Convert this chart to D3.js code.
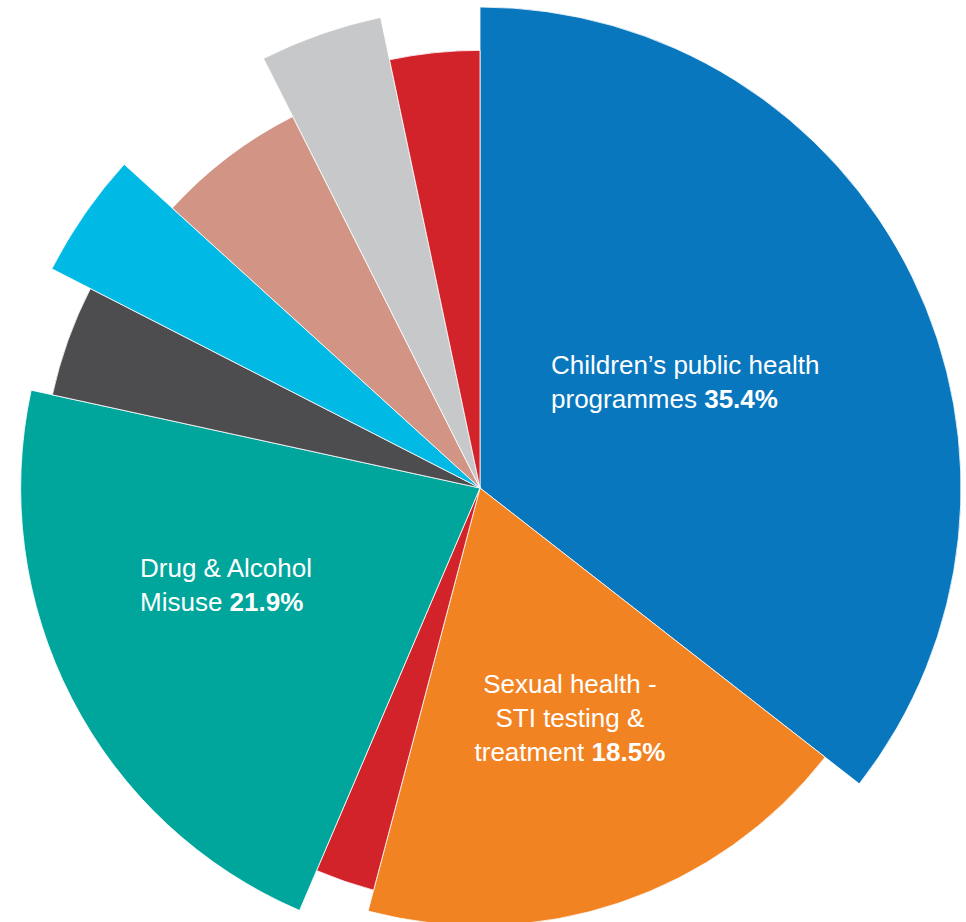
<!DOCTYPE html>
<html>
<head>
<meta charset="utf-8">
<script src="https://cdn.jsdelivr.net/npm/d3@7/dist/d3.min.js"></script>
<style>
  html, body { margin: 0; padding: 0; background: #ffffff; }
  svg { display: block; }
  text { font-family: "Liberation Sans", Arial, Helvetica, sans-serif; fill: #ffffff; }
</style>
</head>
<body>
<svg id="chart" width="966" height="922"></svg>
<script>
// Share of public health spend by programme, clockwise from 12 o'clock
const categories = [
  "Children’s public health programmes",
  "Sexual health - STI testing & treatment",
  "Other (a)",
  "Drug & Alcohol Misuse",
  "Other (b)",
  "Other (c)",
  "Other (d)",
  "Other (e)",
  "Other (f)"
];
const shares = [35.4, 18.5, 2.3, 21.9, 4.1, 4.2, 5.8, 4.1, 3.3];
// Outer reach of each wedge, as a level from 1 (shortest) to 4 (longest)
const reachLevels = [4, 2, 1, 3, 2, 4, 1, 4, 2];
const colours = ["#0877be", "#f28322", "#d2232a", "#00a69c", "#4d4d4f",
                 "#00b9e4", "#d29485", "#c7c8ca", "#d2232a"];
// Label text lines for the three wedges that carry one (last line gets the bold value)
const labelLines = [
  ["Children’s public health", "programmes"],
  ["Sexual health -", "STI testing &", "treatment"],
  null,
  ["Drug & Alcohol", "Misuse"],
  null, null, null, null, null
];

const svg = d3.select("#chart");
const cx = 480, cy = 488;
const g = svg.append("g").attr("transform", `translate(${cx},${cy})`);

const radius = d3.scaleLinear().domain([1, 4]).range([416, 481]);

const data = categories.map((c, i) => ({
  name: c, value: shares[i], level: reachLevels[i], colour: colours[i], lines: labelLines[i]
}));

const pie = d3.pie().sort(null).value(d => d.value);
const arcs = pie(data);

const arc = d3.arc()
  .innerRadius(0)
  .outerRadius(d => radius(d.data.level));

g.selectAll("path.slice")
  .data(arcs)
  .join("path")
  .attr("class", "slice")
  .attr("d", arc)
  .attr("fill", d => d.data.colour)
  .attr("stroke", "#ffffff")
  .attr("stroke-width", 0.8)
  .attr("stroke-linejoin", "miter");

// Label placement: polar offset from the wedge's mid angle, plus alignment
const labelLayout = {
  0: { dAngle: -1.3, r: 231, align: "start", dy: 0 },
  1: { dAngle: -3.1, r: 243, align: "middle", dy: 4 },
  3: { dAngle: 6.9, r: 271, align: "start", dy: 2 }
};

const fontSize = 26, lineGap = 34;
const fmt = d3.format(".1f");

function fillLine(sel, line, isLast, value) {
  sel.append("tspan").text(line);
  if (isLast) {
    sel.append("tspan").text(" ");
    sel.append("tspan").attr("font-weight", "bold").text(fmt(value) + "%");
  }
}

arcs.forEach((a, i) => {
  const lay = labelLayout[i];
  if (!lay || !a.data.lines) return;
  const mid = (a.startAngle + a.endAngle) / 2 + lay.dAngle * Math.PI / 180;
  const px = Math.sin(mid) * lay.r;
  const py = -Math.cos(mid) * lay.r + lay.dy;
  const lines = a.data.lines;
  const n = lines.length;

  // widest line decides where a left-aligned block starts
  let blockW = 0;
  lines.forEach((ln, k) => {
    const probe = g.append("text").attr("font-size", fontSize);
    fillLine(probe, ln, k === n - 1, a.data.value);
    blockW = Math.max(blockW, probe.node().getComputedTextLength());
    probe.remove();
  });
  const x0 = lay.align === "middle" ? px : px - blockW / 2;
  const firstBaseline = py - (n - 1) * lineGap / 2 + fontSize * 0.36;

  lines.forEach((ln, k) => {
    const t = g.append("text")
      .attr("font-size", fontSize)
      .attr("text-anchor", lay.align === "middle" ? "middle" : "start")
      .attr("x", x0)
      .attr("y", firstBaseline + k * lineGap);
    fillLine(t, ln, k === n - 1, a.data.value);
  });
});
</script>
</body>
</html>
